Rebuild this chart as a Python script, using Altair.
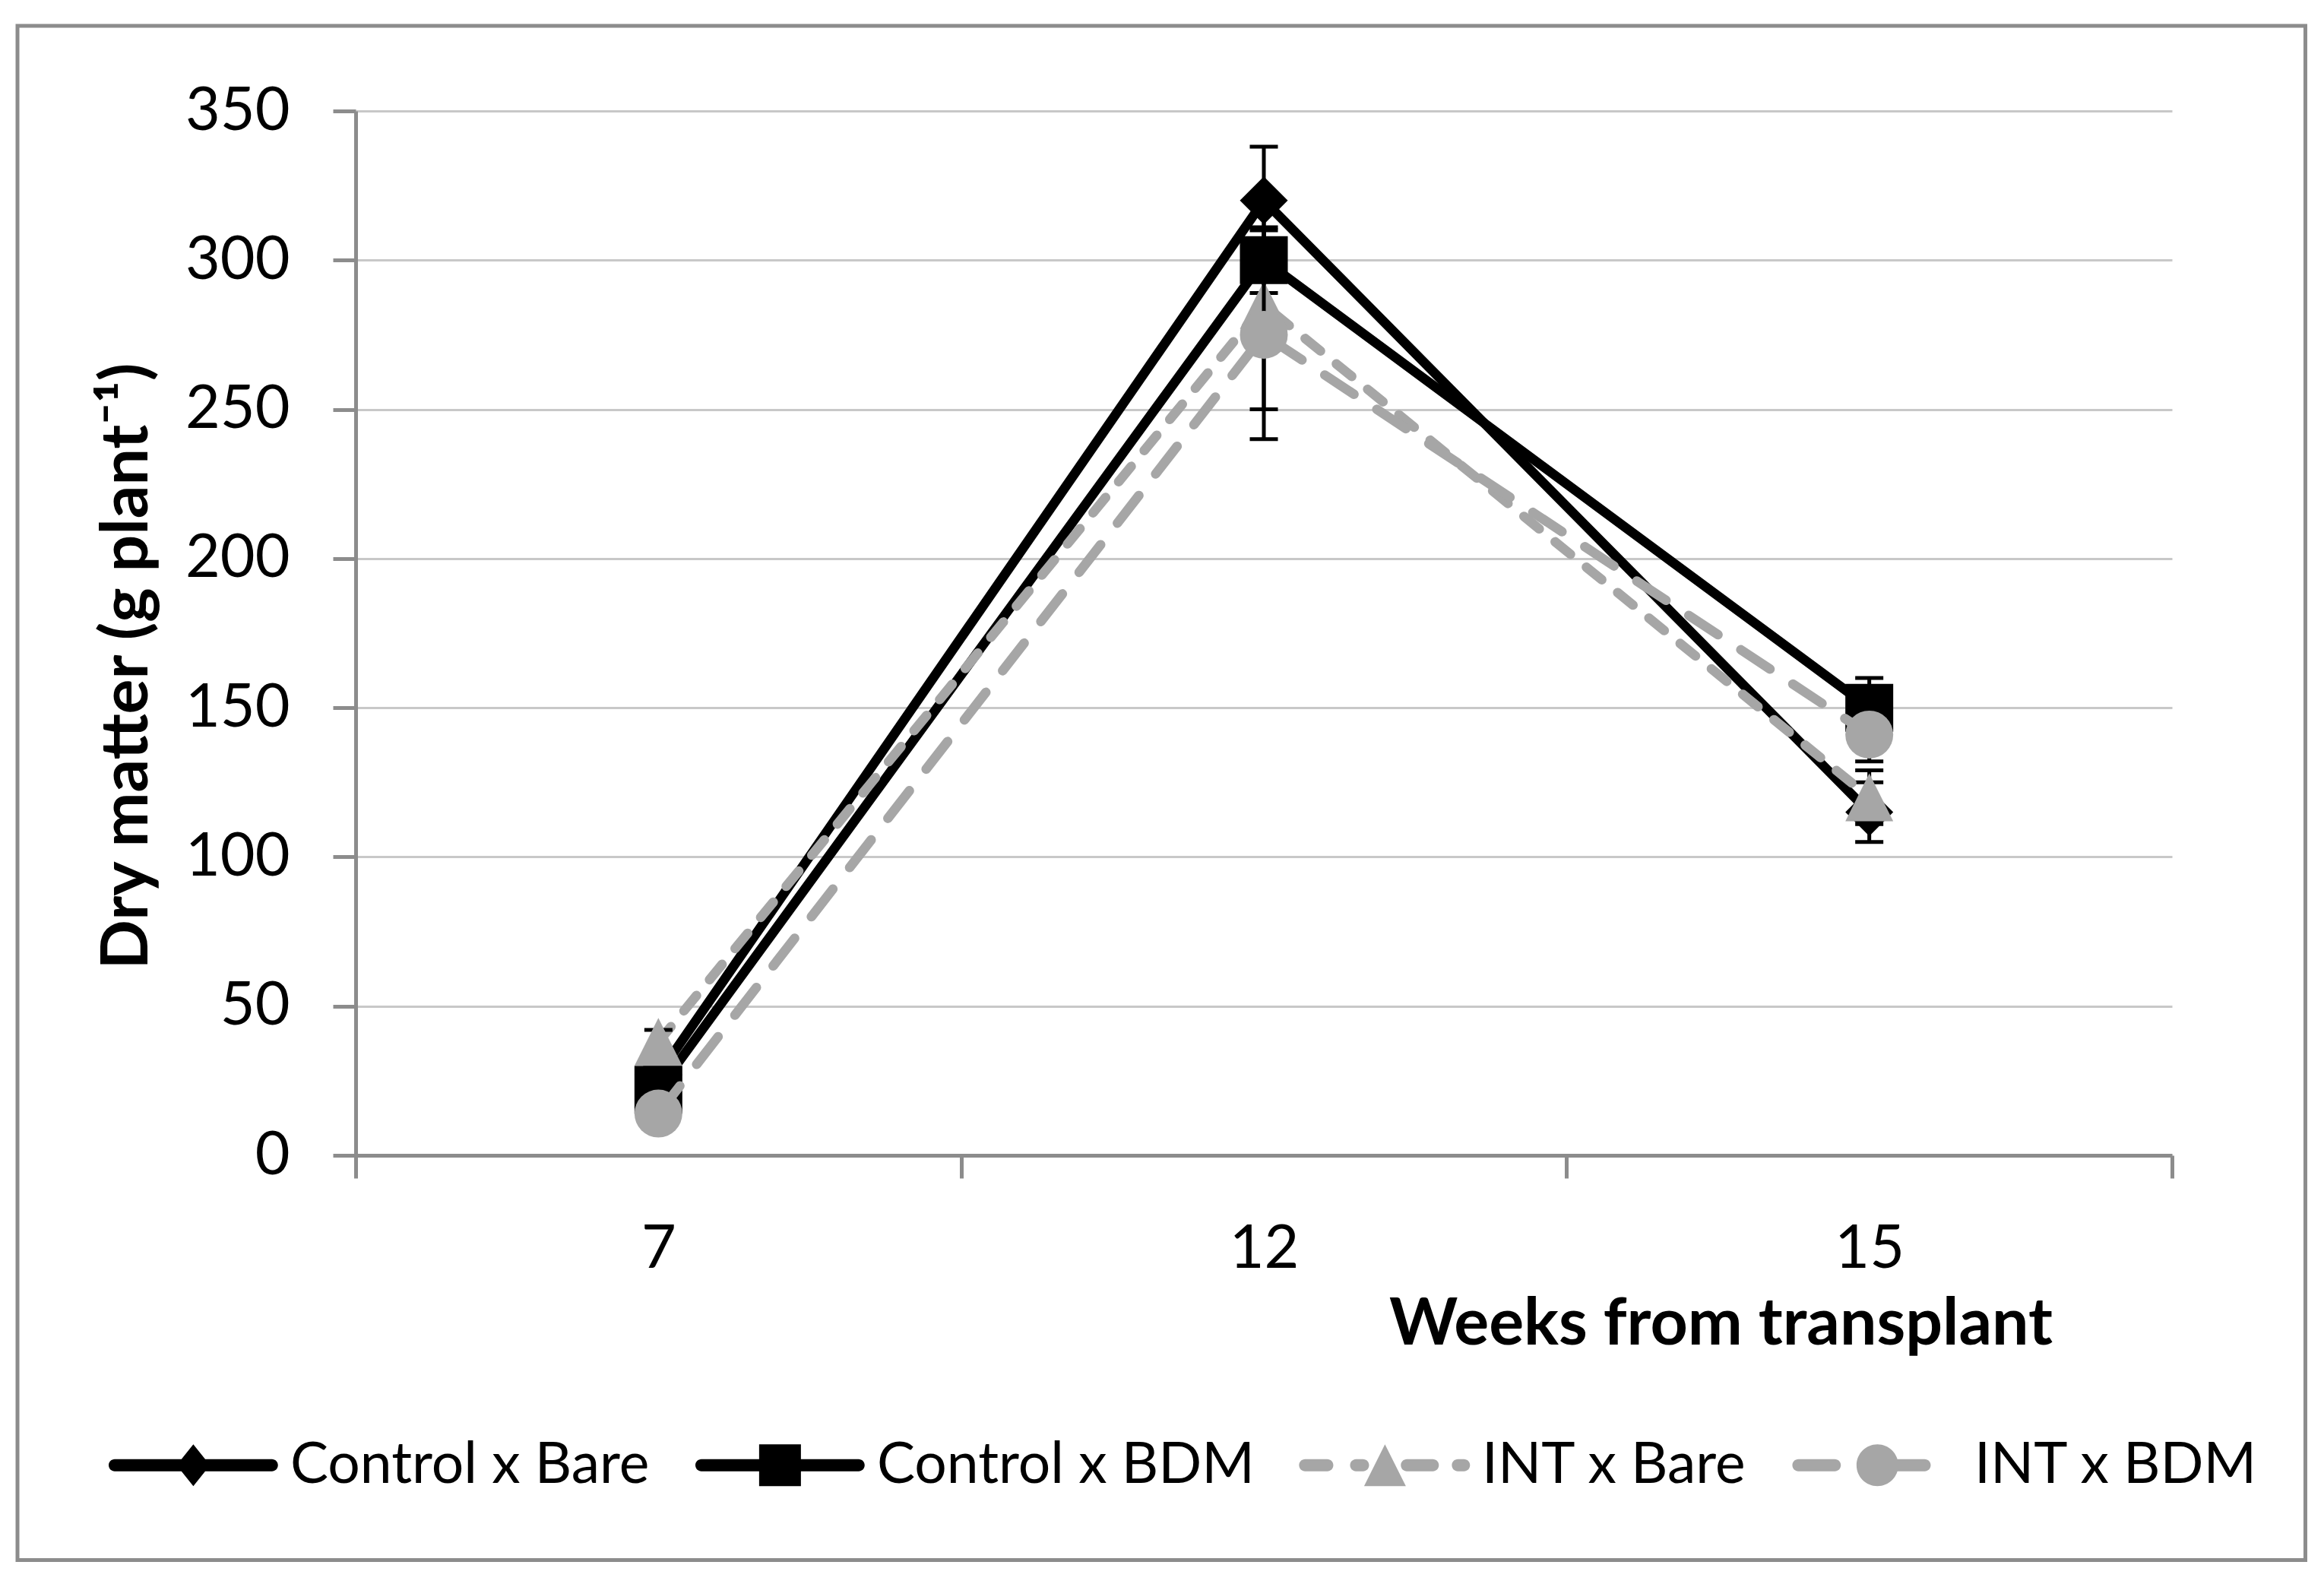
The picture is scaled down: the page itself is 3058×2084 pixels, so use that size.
import altair as alt
import pandas as pd

# ---------------- data ----------------
weeks = ["7", "12", "15"]
series = ["Control x Bare", "Control x BDM", "INT x Bare", "INT x BDM"]

control_bare = [27, 320, 115]
control_bare_err = [3, 18, 10]
control_bdm = [22, 300, 150]
control_bdm_err = [3, 11, 10]
int_bare = [38, 285, 120]
int_bare_err = [4, 35, 9]
int_bdm = [14, 275, 141]
int_bdm_err = [3, 35, 9]

y_ticks = [0, 50, 100, 150, 200, 250, 300, 350]

values_all = [control_bare, control_bdm, int_bare, int_bdm]
errors_all = [control_bare_err, control_bdm_err, int_bare_err, int_bdm_err]

rows = []
for s, vals, errs in zip(series, values_all, errors_all):
    for i, (w, v, e) in enumerate(zip(weeks, vals, errs)):
        rows.append(dict(series=s, week=w, idx=i, value=v, lo=v - e, hi=v + e))
df = pd.DataFrame(rows)

# ---------------- styles ----------------
BLACK = "#000000"
GRAY = "#A6A6A6"
AXIS_GRAY = "#8C8C8C"
colors = [BLACK, BLACK, GRAY, GRAY]
dashes = [None, None, [26, 27], [46, 36]]
shapes = ["diamond", "square", "M0,-1L1,1L-1,1Z", "circle"]
FONT = "Lato"


def f(v):
    return f"{v:.3f}"


def capsule(x0, x1, h):
    return (f"M{f(x0 + h)},{f(-h)}L{f(x1 - h)},{f(-h)}"
            f"A{f(h)},{f(h)} 0 0 1 {f(x1 - h)},{f(h)}"
            f"L{f(x0 + h)},{f(h)}A{f(h)},{f(h)} 0 0 1 {f(x0 + h)},{f(-h)}Z")


c = 3.05
h = 0.29
diamond_p = f"M{f(c - 0.8)},0L{f(c)},-1L{f(c + 0.8)},0L{f(c)},1Z"
square_p = f"M{f(c - 1)},-1L{f(c + 1)},-1L{f(c + 1)},1L{f(c - 1)},1Z"
tri_p = f"M{f(c)},-1L{f(c + 1)},1L{f(c - 1)},1Z"
circ_p = f"M{f(c - 1)},0A1,1 0 1 1 {f(c + 1)},0A1,1 0 1 1 {f(c - 1)},0Z"
solid_line = capsule(c - 4.05, c + 4.05, h)
dash_bare = "".join(capsule(c + a, c + b, h) for a, b in
                    [(-4.11, -2.47), (-1.67, -0.76), (0.76, 2.58), (3.2, 4.07)])
dash_bdm = "".join(capsule(c + a, c + b, h) for a, b in
                   [(-4.07, -1.75), (-0.5, 2.55)])
legend_paths = [solid_line + diamond_p, solid_line + square_p,
                dash_bare + tri_p, dash_bdm + circ_p]

# ---------------- axes ----------------
n = len(weeks)
x_vals = sorted([i - 0.5 for i in range(n + 1)] + list(range(n)))
label_expr = " : ".join(f"datum.value == {i} ? '{w}'" for i, w in enumerate(weeks)) + " : ''"

x_axis = alt.Axis(
    title="Weeks from transplant", values=x_vals, labelExpr=label_expr,
    grid=False, domainColor=AXIS_GRAY, domainWidth=5,
    tickColor=AXIS_GRAY, tickWidth=5, tickSize=30,
    tickOpacity={"condition": {"test": "datum.value % 1 != 0", "value": 1}, "value": 0},
    labelPadding=55, labelFontSize=79, labelFont=FONT, labelColor="black",
    labelFlush=False, labelOverlap=False,
    titleFont=FONT, titleFontSize=86, titleFontWeight="bold", titleColor="black",
    titleX=1796, titleY=248, titleAlign="center", titleBaseline="alphabetic",
)
y_axis = alt.Axis(
    title="Dry matter (g plant\u207b\u00b9)", values=y_ticks,
    grid=True, gridColor="#C8C8C8", gridWidth=3,
    domainColor=AXIS_GRAY, domainWidth=5,
    tickColor=AXIS_GRAY, tickWidth=5, tickSize=30,
    labelPadding=57, labelFontSize=79, labelFont=FONT, labelColor="black",
    titleFont=FONT, titleFontSize=86, titleFontWeight="bold", titleColor="black",
    titleX=-275, titleY=730, titleAngle=270, titleAlign="center",
    titleBaseline="alphabetic",
)

x_scale = alt.Scale(domain=[-0.5, n - 0.5], nice=False, zero=False)
y_scale = alt.Scale(domain=[0, 350], nice=False, zero=True)

X = alt.X("idx:Q", scale=x_scale, axis=x_axis)

layers = []

# border round the whole figure
border = alt.Chart(pd.DataFrame({"a": [0]})).mark_rect(
    fill="transparent", stroke=AXIS_GRAY, strokeWidth=5
).encode(x=alt.value(-445), x2=alt.value(2565.5), y=alt.value(-112), y2=alt.value(1906.5))
layers.append(border)

for s, col, dash, shp in zip(series, colors, dashes, shapes):
    base = alt.Chart(df).transform_filter(alt.datum.series == s)
    line_kw = dict(color=col, strokeWidth=12.5)
    if dash is None:
        line_kw.update(strokeCap="butt", strokeJoin="miter")
    else:
        line_kw.update(strokeDash=dash, strokeCap="round", strokeJoin="round")
    line = base.mark_line(**line_kw).encode(
        x=X, y=alt.Y("value:Q", scale=y_scale, axis=y_axis))
    stem = base.mark_rule(color=BLACK, strokeWidth=5).encode(
        x=X, y=alt.Y("lo:Q", scale=y_scale, axis=y_axis), y2="hi:Q")
    caps = base.transform_fold(["lo", "hi"], as_=["end", "cap"]).mark_tick(
        orient="horizontal", size=37, thickness=5, color=BLACK, opacity=1
    ).encode(x=X, y=alt.Y("cap:Q", scale=y_scale, axis=y_axis))
    pts = base.mark_point(filled=True, shape=shp, size=3969, color=col,
                          opacity=1, strokeWidth=0).encode(
        x=X, y=alt.Y("value:Q", scale=y_scale, axis=y_axis))
    layers += [line, stem, caps, pts]

legend = alt.Legend(
    orient="none", legendX=-335, legendY=1744, direction="horizontal",
    columns=4, symbolSize=3025, symbolStrokeWidth=0, symbolOpacity=1,
    labelFontSize=75, labelFont=FONT, labelColor="black", labelOffset=174,
    labelLimit=2000, columnPadding=50, title=None, padding=0,
)
legend_layer = alt.Chart(df).transform_filter("false").mark_point(
    filled=True, opacity=1).encode(
    color=alt.Color("series:N", scale=alt.Scale(domain=series, range=colors), legend=legend),
    shape=alt.Shape("series:N", scale=alt.Scale(domain=series, range=legend_paths), legend=legend),
)
layers.append(legend_layer)

chart = alt.layer(*layers).properties(
    width=2390, height=1374,
    padding={"left": 12, "top": 23, "right": 10, "bottom": 10},
    background="white",
).configure(font=FONT).configure_view(stroke=None)

chart.save("out.html", embed_options={"renderer": "svg", "actions": False})
